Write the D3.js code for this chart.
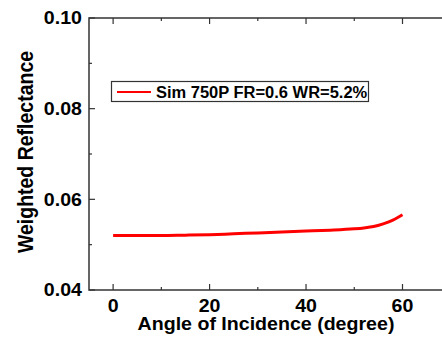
<!DOCTYPE html>
<html>
<head>
<meta charset="utf-8">
<script src="https://cdn.jsdelivr.net/npm/d3@7"></script>
<style>
  body { margin: 0; background: #fff; }
  svg { display: block; }
  text { font-family: "Liberation Sans", Arial, sans-serif; font-weight: bold; fill: #000; }
</style>
</head>
<body>
<div id="chart"></div>
<script>
// data
const angles = [0, 5, 10, 15, 20, 25, 30, 35, 40, 45, 50, 52, 54, 56, 58, 60];
const reflectance = [0.0520, 0.0520, 0.0520, 0.0521, 0.0522, 0.0524, 0.0526, 0.0528, 0.0530, 0.0532, 0.0535, 0.0537, 0.0540, 0.0546, 0.0554, 0.0566];
const xMajorTicks = [0, 20, 40, 60];
const xMinorTicks = [10, 30, 50];
const yMajorTicks = [0.04, 0.06, 0.08, 0.10];
const yMinorTicks = [0.05, 0.07, 0.09];
const seriesName = "Sim 750P FR=0.6 WR=5.2%";

const width = 442, height = 337;
const plotLeft = 89, plotTop = 18, plotBottom = 290;

const x = d3.scaleLinear().domain([-5, 70]).range([plotLeft, plotLeft + 75 * 4.823]);
const y = d3.scaleLinear().domain([0.04, 0.10]).range([plotBottom, plotTop]);

const svg = d3.create("svg")
    .attr("width", width)
    .attr("height", height)
    .attr("viewBox", [0, 0, width, height]);

const axisColor = "#333";
const stretch = 1.12; // the original's lettering is a little wide

// text placed at (tx, ty), widened a bit
function wideText(g, tx, ty, str, size, anchor) {
    return g.append("text")
        .attr("transform", `translate(${tx},${ty}) scale(${stretch},1)`)
        .attr("text-anchor", anchor)
        .style("font-size", size + "px")
        .text(str);
}

// frame
svg.append("rect")
    .attr("x", x.range()[0])
    .attr("y", plotTop)
    .attr("width", x.range()[1] - x.range()[0])
    .attr("height", plotBottom - plotTop)
    .attr("fill", "none")
    .attr("stroke", axisColor)
    .attr("stroke-width", 1.5);

// bottom axis, ticks inward
const xAxis = svg.append("g").attr("transform", `translate(0,${plotBottom})`);
xAxis.selectAll(".major").data(xMajorTicks).enter().append("line")
    .attr("x1", d => x(d)).attr("x2", d => x(d))
    .attr("y1", 0).attr("y2", -6)
    .attr("stroke", axisColor).attr("stroke-width", 1.2);
xAxis.selectAll(".minor").data(xMinorTicks).enter().append("line")
    .attr("x1", d => x(d)).attr("x2", d => x(d))
    .attr("y1", 0).attr("y2", -3)
    .attr("stroke", axisColor).attr("stroke-width", 1.2);
xMajorTicks.forEach(d => wideText(xAxis, x(d), 22, d, 17.5, "middle"));

// top axis ticks
const xTop = svg.append("g").attr("transform", `translate(0,${plotTop})`);
xTop.selectAll(".major").data(xMajorTicks).enter().append("line")
    .attr("x1", d => x(d)).attr("x2", d => x(d))
    .attr("y1", 0).attr("y2", 6)
    .attr("stroke", axisColor).attr("stroke-width", 1.2);
xTop.selectAll(".minor").data(xMinorTicks).enter().append("line")
    .attr("x1", d => x(d)).attr("x2", d => x(d))
    .attr("y1", 0).attr("y2", 3)
    .attr("stroke", axisColor).attr("stroke-width", 1.2);

// left axis
const yAxis = svg.append("g").attr("transform", `translate(${plotLeft},0)`);
yAxis.selectAll(".major").data(yMajorTicks).enter().append("line")
    .attr("x1", 0).attr("x2", 6)
    .attr("y1", d => y(d)).attr("y2", d => y(d))
    .attr("stroke", axisColor).attr("stroke-width", 1.2);
yAxis.selectAll(".minor").data(yMinorTicks).enter().append("line")
    .attr("x1", 0).attr("x2", 3)
    .attr("y1", d => y(d)).attr("y2", d => y(d))
    .attr("stroke", axisColor).attr("stroke-width", 1.2);
yMajorTicks.forEach(d => wideText(yAxis, -7, y(d) + 6.3, d3.format(".2f")(d), 17.5, "end"));

// axis titles
wideText(svg, 266, 330, "Angle of Incidence (degree)", 17.5, "middle");

svg.append("text")
    .attr("transform", `translate(33,152) scale(${stretch},1) rotate(-90)`)
    .attr("text-anchor", "middle")
    .style("font-size", "19.5px")
    .text("Weighted Reflectance");

// series line
const line = d3.line()
    .x((d, i) => x(angles[i]))
    .y(d => y(d))
    .curve(d3.curveMonotoneX);

svg.append("path")
    .datum(reflectance)
    .attr("d", line)
    .attr("fill", "none")
    .attr("stroke", "#ff0000")
    .attr("stroke-width", 3);

// legend
const legend = svg.append("g");
legend.append("rect")
    .attr("x", 111.5).attr("y", 81.5)
    .attr("width", 257).attr("height", 20)
    .attr("fill", "#fff")
    .attr("stroke", axisColor)
    .attr("stroke-width", 1.2);
legend.append("line")
    .attr("x1", 117).attr("x2", 151)
    .attr("y1", 92).attr("y2", 92)
    .attr("stroke", "#ff0000")
    .attr("stroke-width", 2);
legend.append("text")
    .attr("transform", `translate(156,97.5) scale(1.03,1)`)
    .style("font-size", "16px")
    .text(seriesName);

document.getElementById("chart").appendChild(svg.node());
</script>
</body>
</html>
